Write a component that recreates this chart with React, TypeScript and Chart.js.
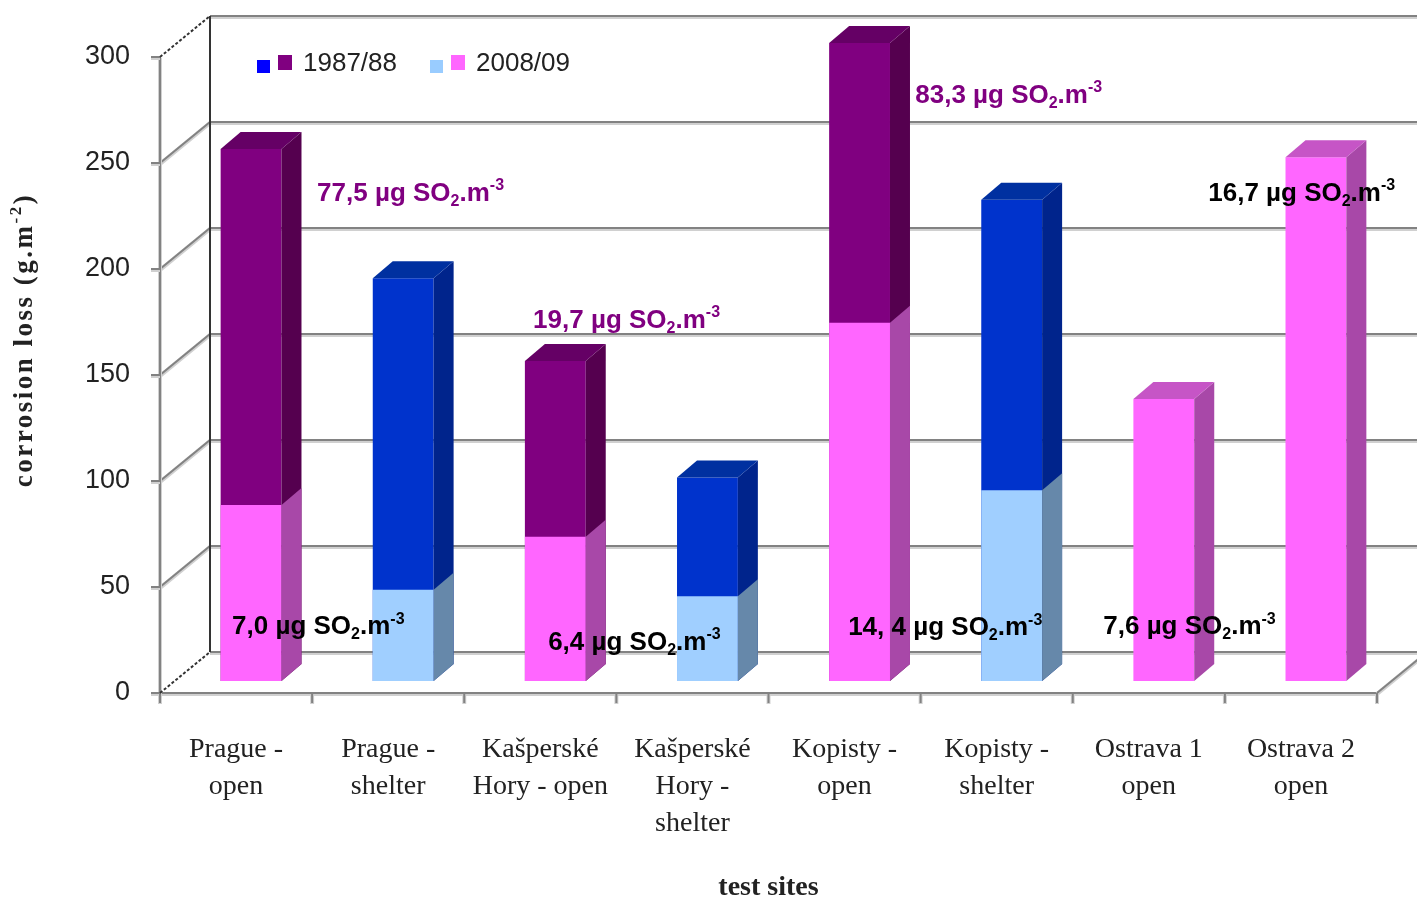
import { useEffect, useRef } from "react";
import { Chart, registerables } from "chart.js";

Chart.register(...registerables);

// ---------- data ----------
const siteLabels: string[][] = [
  ["Prague -", "open"],
  ["Prague -", "shelter"],
  ["Kašperské", "Hory - open"],
  ["Kašperské", "Hory -", "shelter"],
  ["Kopisty -", "open"],
  ["Kopisty -", "shelter"],
  ["Ostrava 1", "open"],
  ["Ostrava 2", "open"],
];
const exposure = ["open", "shelter", "open", "shelter", "open", "shelter", "open", "open"];
const loss1987: (number | null)[] = [251, 190, 151, 96, 301, 227, null, null];
const loss2008: (number | null)[] = [83, 43, 68, 40, 169, 90, 133, 247];
const periods = ["1987/88", "2008/09"];
const yTickValues = [0, 50, 100, 150, 200, 250, 300];

// SO2 concentration notes (anchored in data units: category index, corrosion value)
const so2Values = ["77,5", "19,7", "83,3", "16,7", "7,0", "6,4", "14, 4", "7,6"];
const so2Period = ["1987/88", "1987/88", "1987/88", "2008/09", "2008/09", "2008/09", "2008/09", "2008/09"];
const so2Site = [0.434, 1.854, 4.366, 6.292, -0.125, 1.953, 3.925, 5.602];
const so2Level = [230, 170, 276, 230, 25.5, 18, 25, 25.5];

// ---------- styles ----------
const palette: Record<string, Record<string, { front: string; side: string; top: string; legend: string }>> = {
  "1987/88": {
    open: { front: "#800080", side: "#55004F", top: "#650065", legend: "#800080" },
    shelter: { front: "#0033CC", side: "#00248C", top: "#0030A0", legend: "#0000FF" },
  },
  "2008/09": {
    open: { front: "#FF66FF", side: "#A848A8", top: "#C655C6", legend: "#FF66FF" },
    shelter: { front: "#A0CFFF", side: "#6688AA", top: "#88AEDD", legend: "#99CCFF" },
  },
};
const noteColor: Record<string, string> = { "1987/88": "#800080", "2008/09": "#000000" };

const FRONT = { dx: -15, dy: 12 };
const BACK = { dx: 35, dy: -29 };
const DEPTH = { dx: 20, dy: -17 };

function gridLine(ctx: CanvasRenderingContext2D, x1: number, y1: number, x2: number, y2: number) {
  ctx.setLineDash([]);
  ctx.strokeStyle = "#d0d0d0";
  ctx.lineWidth = 4;
  ctx.beginPath();
  ctx.moveTo(x1, y1 + 1);
  ctx.lineTo(x2, y2 + 1);
  ctx.stroke();
  ctx.strokeStyle = "#828282";
  ctx.lineWidth = 2;
  ctx.beginPath();
  ctx.moveTo(x1, y1);
  ctx.lineTo(x2, y2);
  ctx.stroke();
}

function darkLine(ctx: CanvasRenderingContext2D, x1: number, y1: number, x2: number, y2: number, dashed: boolean) {
  ctx.strokeStyle = "#333";
  ctx.lineWidth = 2;
  ctx.setLineDash(dashed ? [3, 2] : []);
  ctx.beginPath();
  ctx.moveTo(x1, y1);
  ctx.lineTo(x2, y2);
  ctx.stroke();
  ctx.setLineDash([]);
}

type Run = { text: string; sub?: boolean; sup?: boolean };

function drawRuns(
  ctx: CanvasRenderingContext2D,
  runs: Run[],
  x: number,
  y: number,
  size: number,
  family: string,
  weight: string,
  measureOnly = false
) {
  let cx = x;
  for (const r of runs) {
    const small = r.sub || r.sup;
    const s = small ? Math.round(size * 0.62) : size;
    ctx.font = `${weight} ${s}px ${family}`;
    const dy = r.sub ? size * 0.3 : r.sup ? -size * 0.3 : 0;
    if (!measureOnly) ctx.fillText(r.text, cx, y + dy);
    cx += ctx.measureText(r.text).width;
  }
  return cx - x;
}

const depthPlugin = {
  id: "depth3d",
  beforeDatasetsDraw(chart: any) {
    const ctx: CanvasRenderingContext2D = chart.ctx;
    const { left, right } = chart.chartArea;
    const ys = chart.scales.y;
    const n = siteLabels.length;
    ctx.save();
    const y0 = ys.getPixelForValue(0);
    const yMax = ys.getPixelForValue(yTickValues[yTickValues.length - 1]);
    // back wall + side wall grid
    yTickValues.forEach((v, i) => {
      const py = ys.getPixelForValue(v);
      const bx = left + BACK.dx;
      const by = py + BACK.dy;
      gridLine(ctx, bx, by, right + BACK.dx, by);
      if (i !== 0 && i !== yTickValues.length - 1) {
        gridLine(ctx, left + FRONT.dx, py + FRONT.dy, bx, by);
      }
    });
    // front floor edge and right floor edge
    gridLine(ctx, left + FRONT.dx, y0 + FRONT.dy, right + FRONT.dx, y0 + FRONT.dy);
    gridLine(ctx, right + FRONT.dx, y0 + FRONT.dy, right + BACK.dx, y0 + BACK.dy);
    // front value axis
    gridLine(ctx, left + FRONT.dx, y0 + FRONT.dy, left + FRONT.dx, yMax + FRONT.dy);
    yTickValues.forEach((v) => {
      const py = ys.getPixelForValue(v) + FRONT.dy;
      gridLine(ctx, left + FRONT.dx - 9, py, left + FRONT.dx, py);
    });
    // category ticks
    for (let i = 0; i <= n; i++) {
      const px = left + FRONT.dx + (i * (right - left)) / n;
      gridLine(ctx, px, y0 + FRONT.dy, px, y0 + FRONT.dy + 10);
    }
    // back corner edge + dashed side edges
    darkLine(ctx, left + BACK.dx, y0 + BACK.dy, left + BACK.dx, yMax + BACK.dy, false);
    darkLine(ctx, left + FRONT.dx, y0 + FRONT.dy, left + BACK.dx, y0 + BACK.dy, true);
    darkLine(ctx, left + FRONT.dx, yMax + FRONT.dy, left + BACK.dx, yMax + BACK.dy, true);
    ctx.restore();
  },
  afterDatasetDraw(chart: any, args: any) {
    const ctx: CanvasRenderingContext2D = chart.ctx;
    const meta = args.meta;
    const ds = chart.data.datasets[meta.index];
    const period = ds.label as string;
    ctx.save();
    meta.data.forEach((bar: any, i: number) => {
      const val = ds.data[i];
      if (val == null) return;
      const { x, y, base, width } = bar.getProps(["x", "y", "base", "width"], true);
      const x1 = x - width / 2;
      const x2 = x + width / 2;
      const col = palette[period][exposure[i]];
      // side face
      ctx.fillStyle = col.side;
      ctx.beginPath();
      ctx.moveTo(x2, base);
      ctx.lineTo(x2, y);
      ctx.lineTo(x2 + DEPTH.dx, y + DEPTH.dy);
      ctx.lineTo(x2 + DEPTH.dx, base + DEPTH.dy);
      ctx.closePath();
      ctx.fill();
      // top face only for the tallest bar of the site
      const tallest = chart.data.datasets.every((o: any) => o === ds || o.data[i] == null || o.data[i] <= val);
      if (tallest) {
        ctx.fillStyle = col.top;
        ctx.beginPath();
        ctx.moveTo(x1, y);
        ctx.lineTo(x2, y);
        ctx.lineTo(x2 + DEPTH.dx, y + DEPTH.dy);
        ctx.lineTo(x1 + DEPTH.dx, y + DEPTH.dy);
        ctx.closePath();
        ctx.fill();
      }
    });
    ctx.restore();
  },
  afterDraw(chart: any) {
    const ctx: CanvasRenderingContext2D = chart.ctx;
    const { left, right, top } = chart.chartArea;
    const xs = chart.scales.x;
    const ys = chart.scales.y;
    ctx.save();

    // legend
    ctx.textBaseline = "middle";
    ctx.textAlign = "left";
    const legendX = [left + 82, left + 255];
    periods.forEach((p, k) => {
      const lx = legendX[k];
      ctx.fillStyle = palette[p].shelter.legend;
      ctx.fillRect(lx, top + 15, 13, 13);
      ctx.fillStyle = palette[p].open.legend;
      ctx.fillRect(lx + 21, top + 10, 14, 15);
      ctx.fillStyle = "#222";
      ctx.font = "26px 'Liberation Sans', Arial, sans-serif";
      ctx.fillText(p, lx + 46, top + 19);
    });

    // SO2 notes
    so2Values.forEach((v, k) => {
      const px = xs.getPixelForValue(so2Site[k]);
      const py = ys.getPixelForValue(so2Level[k]);
      ctx.fillStyle = noteColor[so2Period[k]];
      drawRuns(
        ctx,
        [{ text: `${v} µg SO` }, { text: "2", sub: true }, { text: ".m" }, { text: "-3", sup: true }],
        px,
        py,
        26,
        "'Liberation Sans', Arial, sans-serif",
        "bold"
      );
    });

    // axis titles
    ctx.fillStyle = "#222";
    ctx.textAlign = "center";
    ctx.font = "bold 28px 'Liberation Serif', 'Times New Roman', serif";
    ctx.fillText("test sites", (left + right) / 2 + FRONT.dx, 888);

    ctx.translate(25, top + 295);
    ctx.rotate(-Math.PI / 2);
    ctx.textAlign = "left";
    (ctx as any).letterSpacing = "2.5px";
    const titleRuns: Run[] = [{ text: "corrosion loss (g.m" }, { text: "-2", sup: true }, { text: ")" }];
    const fam = "'Liberation Serif', 'Times New Roman', serif";
    const w = drawRuns(ctx, titleRuns, 0, 0, 27, fam, "bold", true);
    drawRuns(ctx, titleRuns, -w / 2, 0, 27, fam, "bold");
    ctx.restore();
  },
};

export default function App() {
  const canvasRef = useRef<HTMLCanvasElement | null>(null);

  useEffect(() => {
    const canvas = canvasRef.current;
    if (!canvas) return;
    const makeDataset = (label: string, data: (number | null)[], order: number) => ({
      label,
      data,
      backgroundColor: exposure.map((e) => palette[label][e].front),
      borderWidth: 0,
      grouped: false,
      order,
      barPercentage: 0.4,
      categoryPercentage: 1,
      clip: false as const,
    });
    const chart = new Chart(canvas, {
      type: "bar",
      data: {
        labels: siteLabels,
        datasets: [makeDataset(periods[0], loss1987, 2), makeDataset(periods[1], loss2008, 1)],
      },
      options: {
        animation: false,
        responsive: true,
        maintainAspectRatio: false,
        layout: { padding: { left: 0, top: 45, right: 25, bottom: 0 } },
        plugins: {
          legend: { display: false },
          tooltip: { enabled: false },
          title: { display: false },
        },
        scales: {
          x: {
            grid: { display: false, drawTicks: false },
            border: { display: false },
            ticks: {
              autoSkip: false,
              maxRotation: 0,
              minRotation: 0,
              padding: 50,
              labelOffset: FRONT.dx,
              color: "#222",
              font: { family: "'Liberation Serif', 'Times New Roman', serif", size: 28, lineHeight: 1.32 },
            },
            afterFit: (scale: any) => {
              scale.height = 220;
              scale.paddingLeft = 0;
              scale.paddingRight = 0;
            },
          },
          y: {
            min: 0,
            max: 300,
            grid: { display: false, drawTicks: false },
            border: { display: false },
            ticks: {
              stepSize: 50,
              padding: 45,
              labelOffset: FRONT.dy,
              color: "#222",
              font: { family: "'Liberation Sans', Arial, sans-serif", size: 27 },
            },
            afterFit: (scale: any) => {
              scale.width = 175;
              scale.paddingTop = 0;
              scale.paddingBottom = 0;
            },
          },
        },
      },
      plugins: [depthPlugin],
    });
    return () => chart.destroy();
  }, []);

  return (
    <div style={{ position: "fixed", left: 0, top: 0, width: 1417, height: 901, background: "#fff" }}>
      <canvas ref={canvasRef} />
    </div>
  );
}
